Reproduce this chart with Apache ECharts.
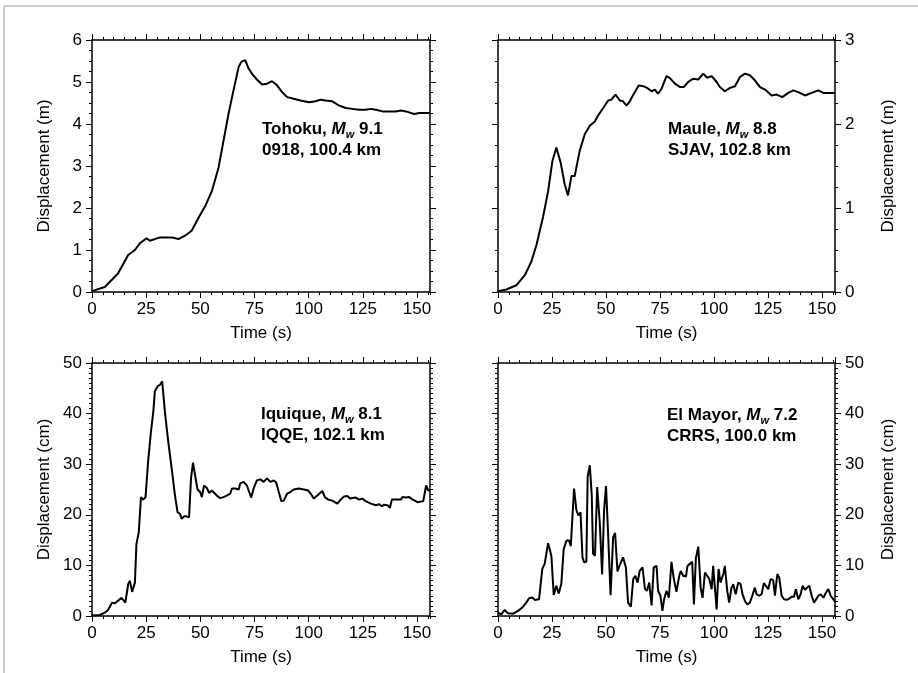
<!DOCTYPE html>
<html><head><meta charset="utf-8">
<script src="https://cdn.jsdelivr.net/npm/echarts@6/dist/echarts.min.js"></script>
<style>html,body{margin:0;padding:0;background:#fff}#c{width:918px;height:673px}</style>
</head><body><div id="c"></div>
<script>
const XMAX = 156;
const xTicksMajor = 25, xTicksMinor = 5;

const tohokuT = [0,5.9,12.0,16.7,19.8,22.1,25.2,26.7,31.4,36.8,39.9,42.9,46.0,49.1,52.2,55.3,58.4,60.7,63.0,65.3,67.7,68.9,70.7,72.3,73.8,76.1,78.5,80.8,83.1,85.4,87.7,90.1,93.1,96.2,100.1,103.2,105.5,107.8,110.9,114.0,117.1,120.2,123.3,126.3,128.7,131.0,134.1,137.2,140.2,142.6,144.9,148.7,151.1,155.9];
const tohokuD = [0.02,0.12,0.44,0.88,1.0,1.16,1.28,1.22,1.30,1.30,1.26,1.34,1.46,1.76,2.04,2.4,2.96,3.6,4.24,4.8,5.36,5.48,5.52,5.32,5.2,5.06,4.94,4.96,5.02,4.92,4.76,4.64,4.6,4.56,4.52,4.54,4.58,4.56,4.54,4.44,4.38,4.36,4.34,4.34,4.36,4.34,4.3,4.3,4.3,4.32,4.3,4.24,4.26,4.26];

const mauleT = [0,3.9,8.5,12.4,15.4,17.8,20.9,23.2,25.2,27.0,29.0,30.9,32.4,34.0,35.5,37.8,40.2,42.5,44.8,46.3,48.7,51.0,52.5,54.4,56.4,57.9,59.5,61.0,62.9,65.2,67.2,69.0,71.1,72.6,74.1,75.7,78.0,79.5,81.9,84.2,86.0,88.0,90.4,92.7,95.0,96.8,98.9,101.2,102.7,105.0,107.4,109.7,112.0,114.3,116.6,118.9,121.3,123.6,126.7,129.0,131.6,134.4,136.7,139.0,142.1,145.2,148.3,150.6,156];
const mauleD = [0.01,0.03,0.08,0.2,0.36,0.56,0.9,1.2,1.56,1.72,1.54,1.28,1.15,1.38,1.38,1.68,1.88,1.98,2.03,2.1,2.19,2.28,2.29,2.35,2.28,2.27,2.22,2.27,2.36,2.46,2.45,2.43,2.39,2.41,2.36,2.42,2.57,2.55,2.48,2.44,2.44,2.5,2.54,2.53,2.6,2.55,2.57,2.5,2.44,2.39,2.43,2.45,2.56,2.6,2.58,2.52,2.44,2.41,2.34,2.35,2.32,2.37,2.4,2.38,2.34,2.37,2.4,2.37,2.37];

const iquiqueT = [0,3.6,5.9,7.4,9.3,10.5,12.0,13.6,15.4,16.7,17.5,18.5,19.8,20.5,21.6,22.6,23.6,24.7,25.9,27.2,28.3,29.0,30.3,31.4,32.4,33.7,35.2,36.8,38.3,39.5,40.6,41.4,42.5,43.7,44.8,45.7,46.6,47.6,48.7,49.9,50.7,51.7,53.0,54.1,55.3,56.1,57.6,59.2,60.7,62.2,63.8,64.6,66.1,67.7,68.4,70.0,71.5,72.3,73.5,74.6,76.1,77.7,79.2,80.8,82.3,83.9,85.0,86.2,87.4,88.5,90.1,91.6,93.1,95.5,97.8,99.8,100.9,102.4,104.0,106.3,107.5,109.0,110.9,113.2,114.8,116.3,117.9,119.1,120.2,121.7,123.3,124.8,126.3,128.7,131.0,132.5,133.8,134.8,136.4,137.5,138.4,140.2,142.6,143.3,144.9,146.4,148.0,150.3,152.9,154.2,155.2,156];
const iquiqueD = [0.13,0.2,0.66,1.2,2.65,2.5,3.0,3.6,2.65,6.3,6.95,4.77,6.6,14.2,16.6,23.5,23.0,23.5,30.5,36.4,40.4,44.4,45.4,45.7,46.4,40.1,34.4,29.1,23.8,20.5,20.2,19.2,19.7,19.7,19.5,27.2,30.3,27.8,25.0,24.5,23.5,25.8,25.3,24.3,24.8,24.8,23.8,23.3,23.5,23.8,24.2,25.2,25.2,25.0,26.2,26.5,25.8,24.8,23.4,25.2,26.8,27.0,26.5,27.2,26.5,26.8,26.4,24.5,22.7,22.8,24.2,24.5,25.0,25.2,25.0,24.8,24.2,23.2,23.8,24.7,23.5,23.0,22.8,22.2,23.0,23.6,23.7,23.2,23.3,23.4,23.0,23.2,22.7,22.2,21.9,22.1,21.7,22.0,21.9,21.4,23.0,23.0,23.0,23.5,23.4,23.5,23.0,22.5,22.7,25.8,24.8,25.0];

const elmayorT = [0,1.5,3.1,4.6,7.0,9.3,11.6,13.1,14.4,15.9,17.0,19.0,20.5,21.6,23.2,24.7,25.8,27.0,28.1,29.3,30.4,31.7,32.9,33.7,35.2,36.3,37.2,38.2,39.1,39.9,40.9,41.5,42.5,43.4,44.0,44.9,45.9,47.1,48.2,49.1,50.0,51.0,52.1,53.3,54.2,55.3,56.4,57.9,59.2,60.2,61.5,62.6,63.6,64.6,65.6,66.9,68.0,69.0,70.0,71.1,72.1,73.4,74.1,75.2,76.1,76.9,78.0,79.1,80.3,81.4,82.6,83.9,84.6,85.7,87.0,87.7,88.8,89.9,90.7,91.6,92.7,93.8,94.7,95.8,96.8,97.8,98.9,99.6,100.4,101.2,102.1,103.0,104.3,105.0,106.1,107.0,108.1,108.9,110.0,111.2,112.3,113.2,114.3,115.4,116.6,117.7,118.9,119.7,120.9,122.0,123.1,124.0,125.1,126.2,127.4,128.2,129.3,130.2,131.3,132.4,133.6,134.8,135.9,137.0,137.9,139.0,140.1,141.0,142.1,142.9,144.1,145.2,146.3,147.2,148.3,149.4,150.6,151.8,152.9,154.0,156];
const elmayorD = [0.66,0.33,1.2,0.53,0.46,1.0,1.85,2.65,3.5,3.64,3.18,3.3,9.3,10.3,14.4,11.9,4.17,5.96,4.44,6.3,13.2,14.9,14.9,13.8,25.2,20.9,19.9,20.5,11.6,10.6,10.7,27.5,29.8,23.8,12.3,11.9,25.5,18.5,8.2,20.9,25.7,15.9,4.1,15.6,16.4,8.8,10.1,11.6,9.6,2.65,1.85,7.3,7.95,6.6,8.9,9.6,5.4,5.0,6.6,2.1,9.6,9.9,5.0,4.0,1.0,3.3,5.0,3.6,10.7,7.3,4.8,7.95,8.9,7.95,7.8,9.9,10.3,10.7,2.3,11.4,13.7,5.6,3.6,8.6,7.95,7.3,5.3,9.9,9.9,1.3,9.3,6.6,8.3,9.9,5.0,2.65,5.6,6.3,4.3,6.6,6.3,4.3,3.0,2.3,2.65,4.0,5.6,4.3,4.0,4.3,6.5,6.4,5.3,7.3,7.1,4.0,8.3,7.6,4.0,3.3,3.2,3.4,3.8,3.8,5.3,3.3,4.3,6.0,5.2,5.3,6.0,4.0,2.65,3.0,4.0,4.3,3.6,4.6,5.3,4.0,2.85];

const panels = [
  {t: tohokuT, d: tohokuD, ymax: 6, yint: 1, ymin: 4, side: 'left', yname: 'Displacement (m)',
   grid: {left: 92, top: 40, width: 338, height: 252},
   label: '{b|Tohoku, }{i|M}{s|w}{b| 9.1}\n{b|0918, 100.4 km}', lx: 257, ly: 114},
  {t: mauleT, d: mauleD, ymax: 3, yint: 1, ymin: 4, side: 'right', yname: 'Displacement (m)',
   grid: {left: 498, top: 40, width: 337, height: 252},
   label: '{b|Maule, }{i|M}{s|w}{b| 8.8}\n{b|SJAV, 102.8 km}', lx: 663, ly: 114},
  {t: iquiqueT, d: iquiqueD, ymax: 50, yint: 10, ymin: 10, side: 'left', yname: 'Displacement (cm)',
   grid: {left: 92, top: 363, width: 338, height: 253},
   label: '{b|Iquique, }{i|M}{s|w}{b| 8.1}\n{b|IQQE, 102.1 km}', lx: 256, ly: 399},
  {t: elmayorT, d: elmayorD, ymax: 50, yint: 10, ymin: 10, side: 'right', yname: 'Displacement (cm)',
   grid: {left: 498, top: 363, width: 337, height: 253},
   label: '{b|El Mayor, }{i|M}{s|w}{b| 7.2}\n{b|CRRS, 100.0 km}', lx: 662, ly: 400}
];

const FF = 'Liberation Sans';
const FS = 17;
const grids = [], xAxes = [], yAxes = [], series = [], titles = [];

panels.forEach((p, gi) => {
  grids.push(Object.assign({containLabel: false}, p.grid));
  const xBase = xAxes.length;
  ['bottom', 'top'].forEach(pos => {
    xAxes.push({
      gridIndex: gi, type: 'value', min: 0, max: XMAX, interval: xTicksMajor, position: pos,
      axisLine: {show: true, onZero: false, lineStyle: {color: '#000', width: 1.5}},
      axisTick: {show: true, inside: false, length: 6, lineStyle: {color: '#000', width: 1}},
      axisLabel: {show: pos === 'bottom', showMaxLabel: false, color: '#000', fontFamily: FF, fontSize: FS, margin: 9},
      splitLine: {show: false},
      name: pos === 'bottom' ? 'Time (s)' : '', nameLocation: 'middle', nameGap: 33,
      nameTextStyle: {color: '#000', fontFamily: FF, fontSize: FS}
    });
    xAxes.push({
      gridIndex: gi, type: 'value', min: 0, max: XMAX, interval: xTicksMinor, position: pos,
      axisLine: {show: false, onZero: false},
      axisTick: {show: true, inside: false, length: 3, lineStyle: {color: '#000', width: 1}},
      axisLabel: {show: false}, splitLine: {show: false}
    });
  });
  const yBase = yAxes.length;
  ['left', 'right'].forEach(pos => {
    const lab = pos === p.side;
    yAxes.push({
      gridIndex: gi, type: 'value', min: 0, max: p.ymax, interval: p.yint, position: pos,
      axisLine: {show: true, onZero: false, lineStyle: {color: '#000', width: 1.5}},
      axisTick: {show: true, inside: false, length: 6, lineStyle: {color: '#000', width: 1}},
      minorTick: {show: true, splitNumber: p.ymin, length: 3, lineStyle: {color: '#000', width: 1}},
      axisLabel: {show: lab, color: '#000', fontFamily: FF, fontSize: FS, margin: 10},
      splitLine: {show: false},
      name: lab ? p.yname : '', nameLocation: 'middle', nameGap: pos === 'left' ? 39 : 45,
      nameTextStyle: {color: '#000', fontFamily: FF, fontSize: FS}
    });
  });
  series.push({
    type: 'line', xAxisIndex: xBase, yAxisIndex: yBase + (p.side === 'left' ? 0 : 1),
    data: p.t.map((t, i) => [t, p.d[i]]),
    showSymbol: false, symbol: 'none', smooth: false, animation: false,
    lineStyle: {color: '#000', width: 2}
  });
  titles.push({
    text: p.label, left: p.lx, top: p.ly,
    textStyle: {
      fontFamily: FF, fontSize: FS, color: '#000', lineHeight: 21,
      rich: {
        b: {fontFamily: FF, fontSize: FS, fontWeight: 'bold', color: '#000', lineHeight: 21},
        i: {fontFamily: FF, fontSize: FS, fontWeight: 'bold', fontStyle: 'italic', color: '#000', lineHeight: 21},
        s: {fontFamily: FF, fontSize: 11, fontWeight: 'bold', fontStyle: 'italic', color: '#000', lineHeight: 11, verticalAlign: 'bottom'}
      }
    }
  });
});

const chart = echarts.init(document.getElementById('c'), null, {renderer: 'canvas'});
chart.setOption({
  backgroundColor: '#fff',
  animation: false,
  title: titles,
  grid: grids,
  xAxis: xAxes,
  yAxis: yAxes,
  series: series,
  graphic: [
    {type: 'line', shape: {x1: 4, y1: 6, x2: 918, y2: 6}, style: {stroke: '#bdbdbd', lineWidth: 1.5}, silent: true},
    {type: 'line', shape: {x1: 4, y1: 6, x2: 4, y2: 673}, style: {stroke: '#bdbdbd', lineWidth: 1.5}, silent: true}
  ]
});
</script>
</body></html>
